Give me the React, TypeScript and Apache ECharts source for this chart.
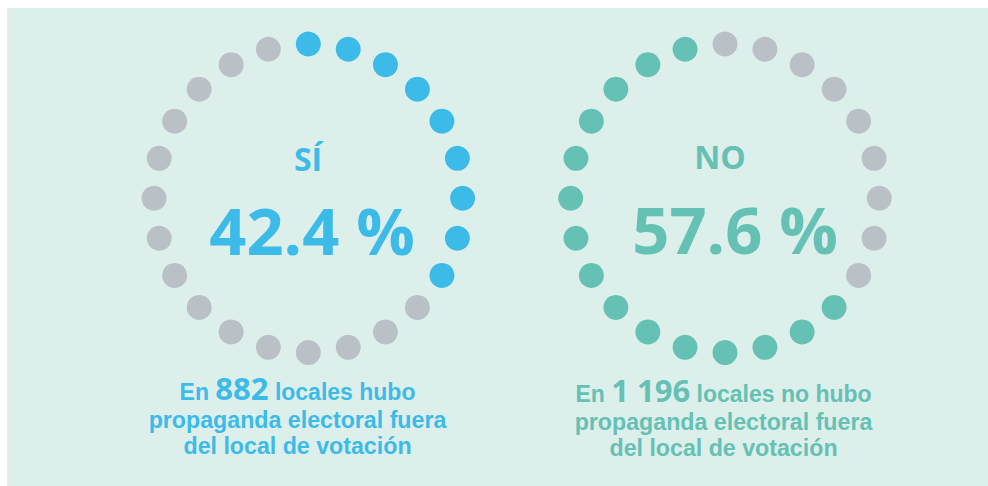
import React, { useEffect, useRef } from "react";
import * as echarts from "echarts";

// 24 dot positions around each ring (clockwise from the top)
const ringPositions = [
  "0°", "15°", "30°", "45°", "60°", "75°", "90°", "105°", "120°", "135°", "150°", "165°",
  "180°", "195°", "210°", "225°", "240°", "255°", "270°", "285°", "300°", "315°", "330°", "345°",
];

// "SÍ" ring: coloured dots are the first 9 positions
const siFilledPositions = ["0°", "15°", "30°", "45°", "60°", "75°", "90°", "105°", "120°"];
// "NO" ring: grey dots are the first 9 positions, coloured the remaining 15
const noFilledPositions = [
  "135°", "150°", "165°", "180°", "195°", "210°", "225°", "240°", "255°", "270°", "285°", "300°", "315°", "330°", "345°",
];

const labels = ["SÍ", "NO"];
const percents = [42.4, 57.6];
const locales = ["882", "1 196"];

const BLUE = "#3cbbe8";
const TEAL = "#64c1b4";
const GREY = "#b9c0c6";
const BG = "#ddefeb";
const FONT = '"Open Sans", sans-serif';
const SUB_FONT = '"Liberation Sans", Arial, sans-serif';

function dots(positions: string[]) {
  return positions.map((p) => [1, p]);
}

export default function App() {
  const ref = useRef<HTMLDivElement>(null);
  useEffect(() => {
    if (!ref.current) return;
    const chart = echarts.init(ref.current, undefined, { renderer: "svg" });

    const siEmpty = ringPositions.filter((p) => !siFilledPositions.includes(p));
    const noEmpty = ringPositions.filter((p) => !noFilledPositions.includes(p));

    const hiddenAngle = (i: number) => ({
      polarIndex: i,
      type: "category" as const,
      data: ringPositions,
      boundaryGap: false,
      startAngle: 90,
      clockwise: true,
      axisLine: { show: false },
      axisTick: { show: false },
      axisLabel: { show: false },
      splitLine: { show: false },
    });
    const hiddenRadius = (i: number) => ({
      polarIndex: i,
      type: "value" as const,
      min: 0,
      max: 1,
      axisLine: { show: false },
      axisTick: { show: false },
      axisLabel: { show: false },
      splitLine: { show: false },
    });

    const dotSeries = (polarIndex: number, data: any[], color: string) => ({
      type: "scatter" as const,
      coordinateSystem: "polar" as const,
      polarIndex,
      symbol: "circle",
      symbolSize: 25,
      itemStyle: { color, opacity: 1 },
      data,
      silent: true,
      z: 3,
    });

    const subtitle = (x: number, color: string, first: string, num: string, rest: string, y0: number) => [
      {
        type: "text",
        x,
        y: y0,
        z: 10,
        style: {
          text: `{a|${first}}{b|${num}}{a|${rest}}`,
          align: "center",
          verticalAlign: "bottom",
          fill: color,
          rich: {
            a: { fontFamily: SUB_FONT, fontWeight: "bold", fontSize: 23, lineHeight: 22, verticalAlign: "bottom", fill: color },
            b: { fontFamily: FONT, fontWeight: "bold", fontSize: 31, lineHeight: 31, verticalAlign: "bottom", fill: color },
          },
        },
      },
      {
        type: "text",
        x,
        y: y0 + 30,
        z: 10,
        style: {
          text: "propaganda electoral fuera\ndel local de votación",
          align: "center",
          verticalAlign: "middle",
          fontFamily: SUB_FONT,
          fontWeight: "bold",
          fontSize: 23.2,
          lineHeight: 26,
          fill: color,
        },
      },
    ];

    chart.setOption({
      animation: false,
      polar: [
        { center: [308.3, 198.3], radius: 154.3 },
        { center: [725, 198.3], radius: 154.3 },
      ],
      angleAxis: [hiddenAngle(0), hiddenAngle(1)],
      radiusAxis: [hiddenRadius(0), hiddenRadius(1)],
      series: [
        dotSeries(0, dots(siFilledPositions), BLUE),
        dotSeries(0, dots(siEmpty), GREY),
        dotSeries(1, dots(noFilledPositions), TEAL),
        dotSeries(1, dots(noEmpty), GREY),
      ],
      graphic: [
        {
          type: "rect",
          z: -10,
          silent: true,
          shape: { x: 7, y: 8, width: 981, height: 478 },
          style: { fill: BG },
        },
        {
          type: "text",
          x: 308,
          y: 158,
          z: 10,
          style: { text: labels[0], align: "center", verticalAlign: "middle", fontFamily: FONT, fontWeight: "bold", fontSize: 32, fill: BLUE },
        },
        {
          type: "text",
          x: 312,
          y: 230,
          z: 10,
          style: { text: `${percents[0]} %`, align: "center", verticalAlign: "middle", fontFamily: FONT, fontWeight: "bold", fontSize: 65, fill: BLUE },
        },
        {
          type: "text",
          x: 720,
          y: 156,
          z: 10,
          style: { text: labels[1], align: "center", verticalAlign: "middle", fontFamily: FONT, fontWeight: "bold", fontSize: 32, fill: TEAL },
        },
        {
          type: "text",
          x: 735,
          y: 229,
          z: 10,
          style: { text: `${percents[1]} %`, align: "center", verticalAlign: "middle", fontFamily: FONT, fontWeight: "bold", fontSize: 65, fill: TEAL },
        },
        ...subtitle(297.5, BLUE, "En ", locales[0], " locales hubo", 403),
        ...subtitle(723.5, TEAL, "En ", locales[1], " locales no hubo", 405),
      ],
    });
    return () => chart.dispose();
  }, []);
  return <div ref={ref} style={{ position: "absolute", left: 0, top: 0, width: 988, height: 486 }} />;
}
